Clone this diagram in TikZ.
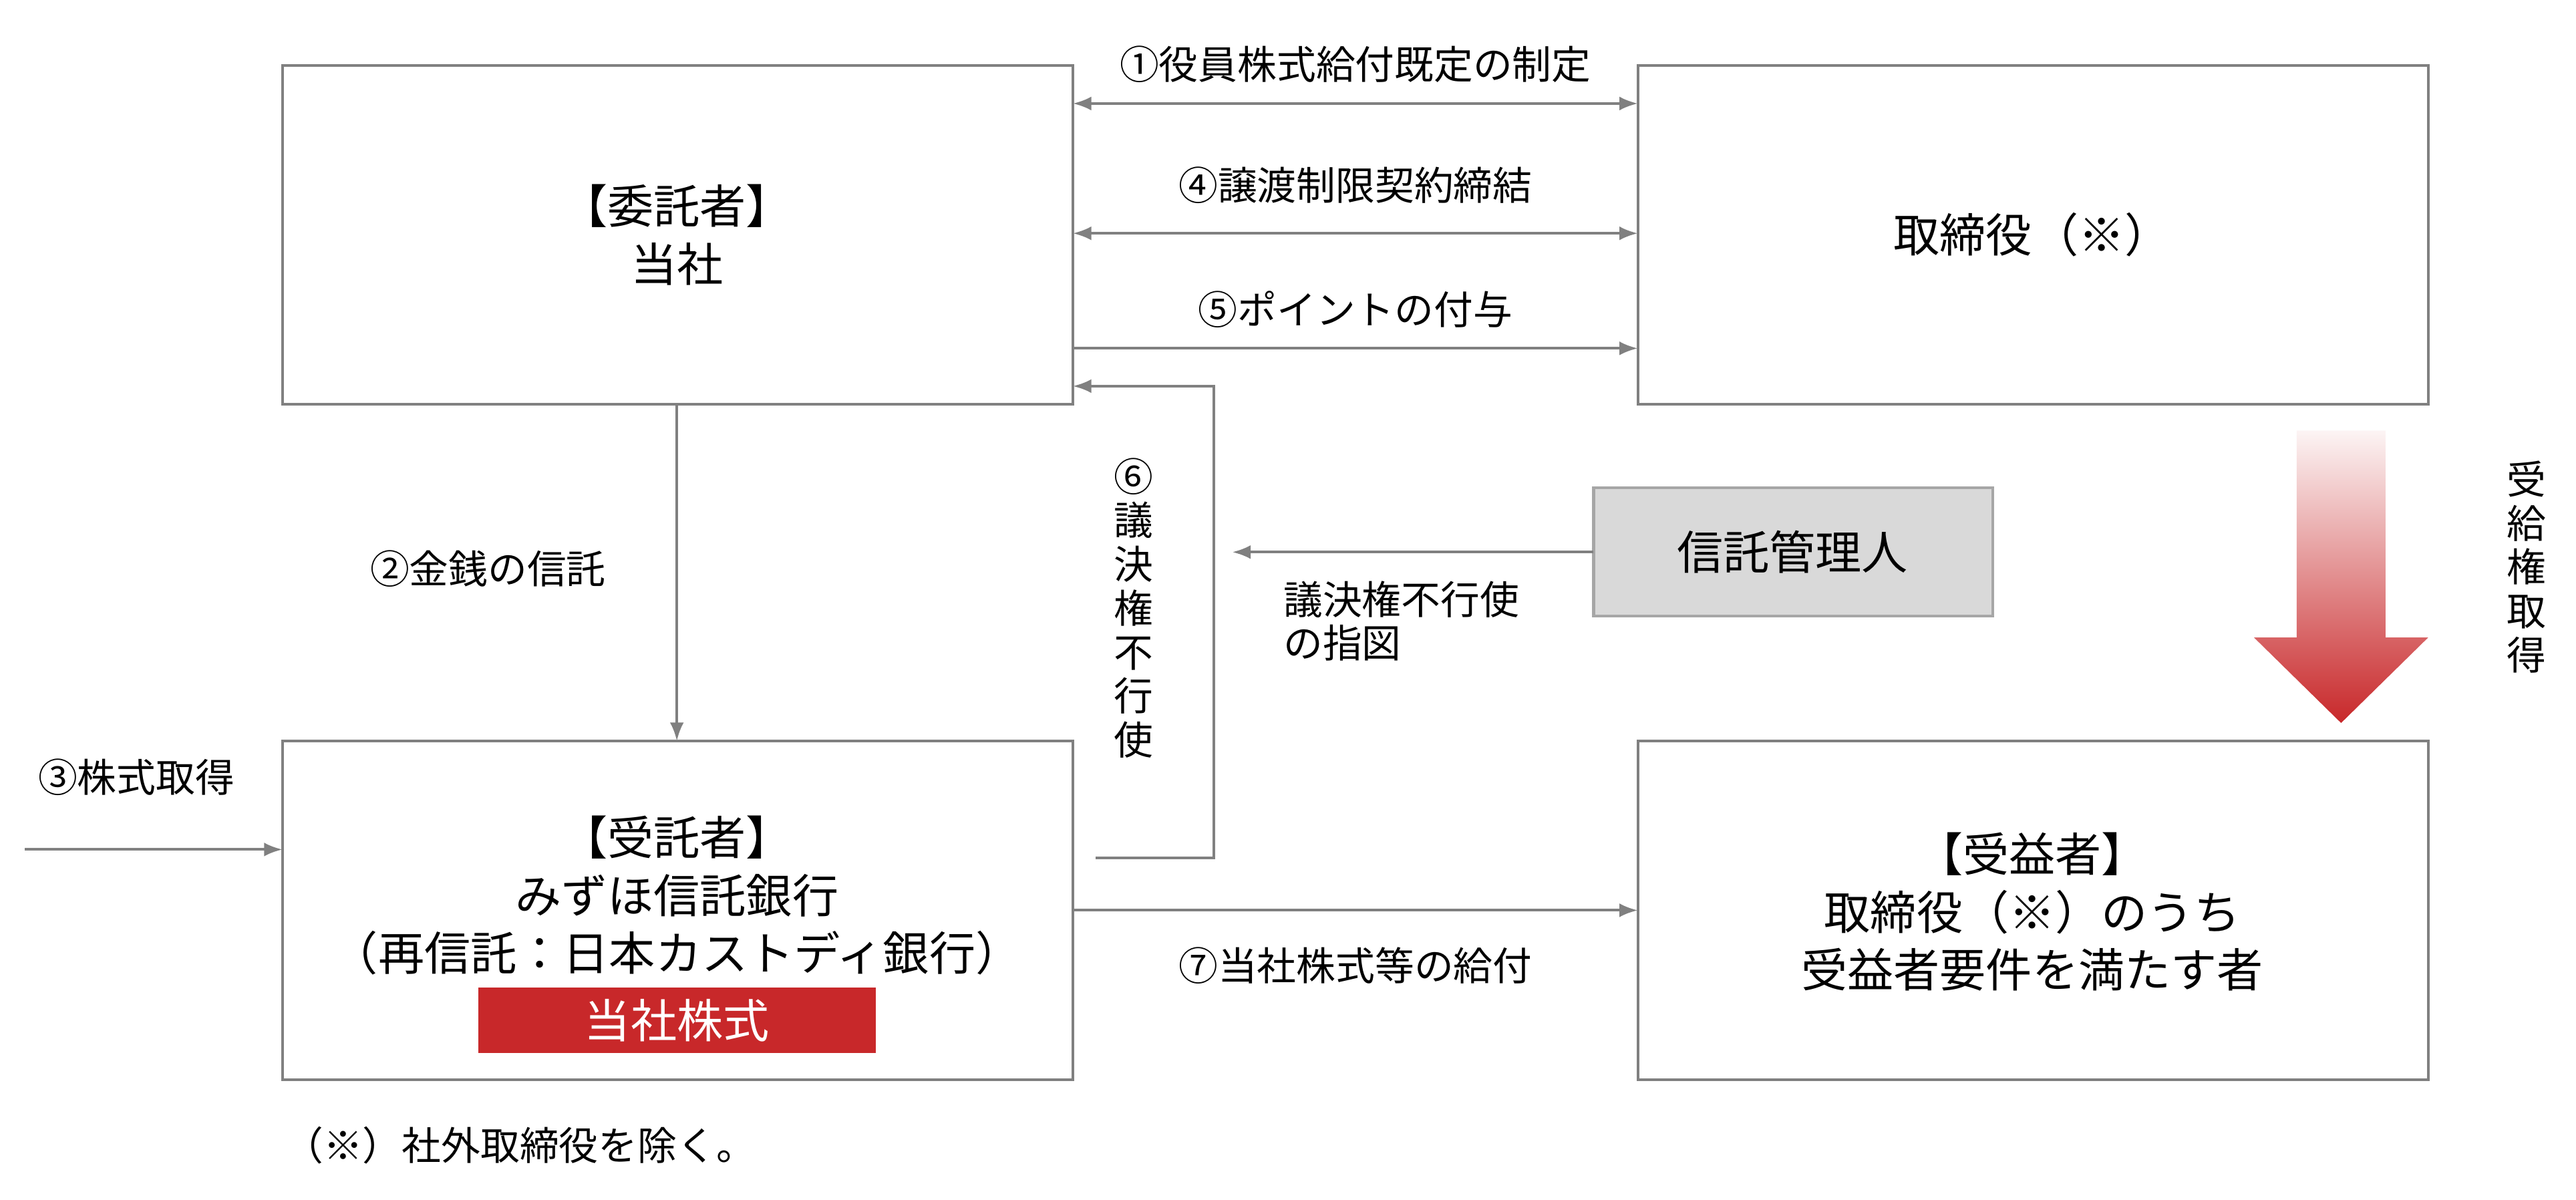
\documentclass[tikz,border=0pt]{standalone}
\usepackage{fontspec}
\setmainfont{Noto Sans CJK JP}
\usetikzlibrary{arrows.meta}
\definecolor{lgray}{HTML}{808080}
\definecolor{kred}{HTML}{C8282A}
\definecolor{kfill}{HTML}{D9D9D9}
\tikzset{
  kbox/.style={draw=lgray,line width=1.2pt},
  karr/.style={-{Latex[length=8pt,width=6pt]},draw=lgray,line width=1.2pt},
  kdbl/.style={{Latex[length=8pt,width=6pt]}-{Latex[length=8pt,width=6pt]},draw=lgray,line width=1.2pt},
  klab/.style={font=\fontsize{17}{19}\selectfont},
  kbig/.style={font=\fontsize{20}{25}\selectfont,align=center}
}
\begin{document}
\begin{tikzpicture}[x=0.025cm,y=-0.025cm]
\useasboundingbox (0,0) rectangle (1568,730);
% boxes
\draw[kbox] (172,40) rectangle (653,246);
\node[kbig] (itaku) at (412,143) {【委託者】\\当社};
\draw[kbox] (997,40) rectangle (1478,246);
\node[kbig] (tori) at (1237,143) {取締役（※）};
\draw[kbox] (172,451) rectangle (653,657);
\node[kbig] (jutaku) at (412,545) {【受託者】\\みずほ信託銀行\\（再信託：日本カストディ銀行）};
\fill[kred] (291,601) rectangle (533,641);
\node[kbig,text=white] (kabu) at (412,621) {当社株式};
\draw[kbox] (997,451) rectangle (1478,657);
\node[kbig] (jueki) at (1237,555) {【受益者】\\取締役（※）のうち\\受益者要件を満たす者};
\draw[draw=lgray!70,fill=kfill,line width=1.2pt] (970,297) rectangle (1213,375);
\node[kbig] (kanri) at (1091,336) {信託管理人};
% coordinates
\coordinate (a1) at (653,63); \coordinate (b1) at (997,63);
\coordinate (a4) at (653,142); \coordinate (b4) at (997,142);
\coordinate (a5) at (653,212); \coordinate (b5) at (997,212);
\coordinate (a7) at (653,554); \coordinate (b7) at (997,554);
\coordinate (s6) at (667,522); \coordinate (e6) at (653,235);
\coordinate (s2) at (412,246); \coordinate (e2) at (412,451);
\coordinate (s3) at (15,517); \coordinate (e3) at (172,517);
\coordinate (sk) at (970,336); \coordinate (ek) at (750,336);
% connectors
\draw[kdbl] (a1) -- (b1) node[klab,midway,above=5pt] {①役員株式給付既定の制定};
\draw[kdbl] (a4) -- (b4) node[klab,midway,above=9pt] {④譲渡制限契約締結};
\draw[karr] (a5) -- (b5) node[klab,midway,above=5pt] {⑤ポイントの付与};
\draw[karr] (a7) -- (b7) node[klab,midway,below=12pt] {⑦当社株式等の給付};
\draw[karr] (s6) -| (739,235) -- (e6);
\node[klab,align=center,inner sep=0pt] (l6) at (690,370) {⑥\\議\\決\\権\\不\\行\\使};
\draw[karr] (s2) -- (e2);
\node[klab] (l2) at (297,346) {②金銭の信託};
\draw[karr] (s3) -- (e3);
\node[klab] (l3) at (83,473) {③株式取得};
\draw[karr] (sk) -- (ek);
\node[klab,align=left] (lk) at (853,378) {議決権不行使\\の指図};
% big arrow
\shade[top color=kred!5,bottom color=kred] (1398,262) -- (1452,262) -- (1452,388) -- (1478,388) -- (1425,440) -- (1372,388) -- (1398,388) -- cycle;
\node[klab,align=center,inner sep=0pt] (lj) at (1538,345) {受\\給\\権\\取\\得};
\node[klab,anchor=west] (note) at (168,697) {（※）社外取締役を除く。};
\end{tikzpicture}
\end{document}
